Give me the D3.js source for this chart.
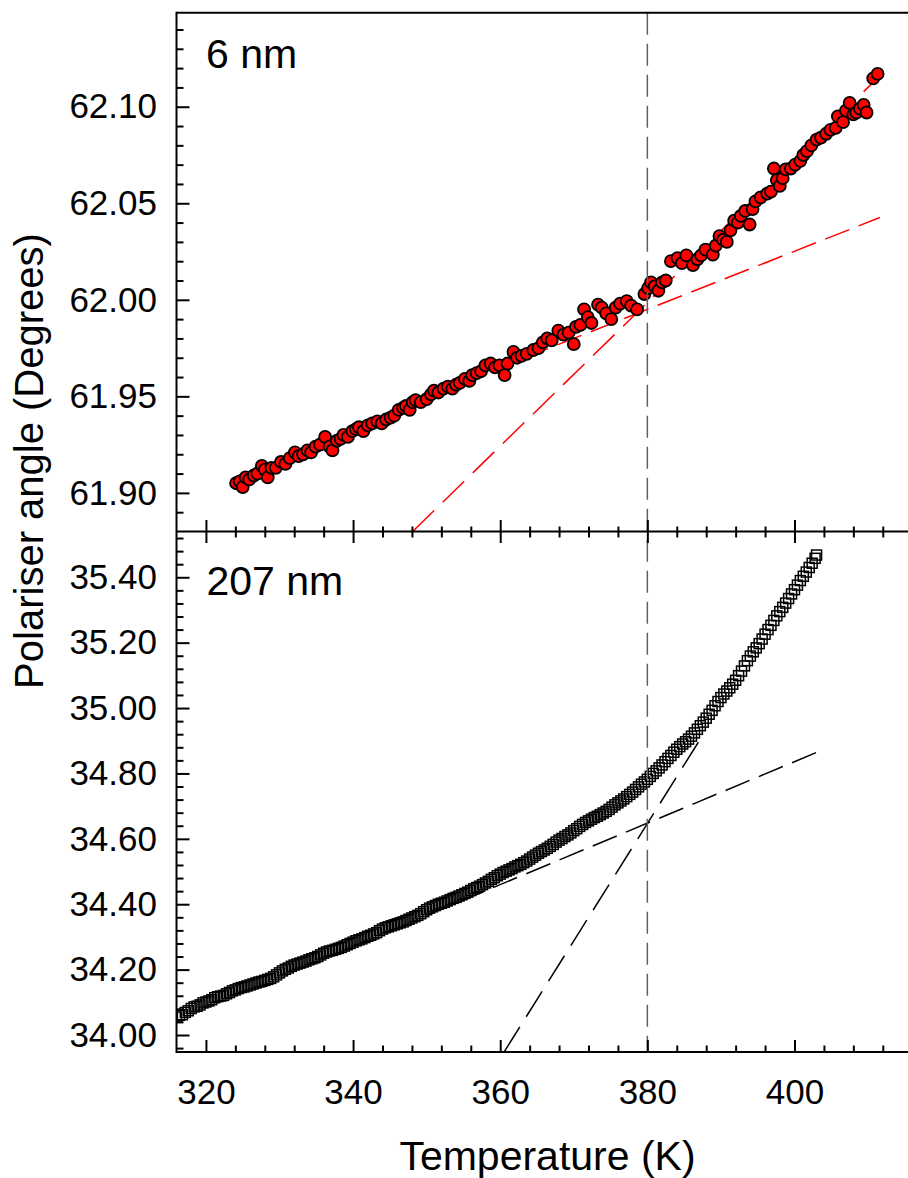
<!DOCTYPE html>
<html>
<head>
<meta charset="utf-8">
<script src="https://cdn.jsdelivr.net/npm/d3@7"></script>
<style>
  html, body { margin: 0; padding: 0; background: #fff; }
  svg { display: block; }
  text { font-family: "Liberation Sans", Arial, sans-serif; fill: #000; }
</style>
</head>
<body>
<svg id="chart" width="908" height="1178"></svg>
<script>
// ---------- Data ----------
const panelLabels = ["6 nm", "207 nm"];
const xTickValues = [320, 340, 360, 380, 400];
const xMinorTicks = [324, 328, 332, 336, 344, 348, 352, 356, 364, 368, 372, 376, 384, 388, 392, 396, 404, 408, 412];
const yTopTicks = [61.90, 61.95, 62.00, 62.05, 62.10];
const yTopMinor = [61.89, 61.91, 61.92, 61.93, 61.94, 61.96, 61.97, 61.98, 61.99, 62.01, 62.02, 62.03, 62.04, 62.06, 62.07, 62.08, 62.09, 62.11, 62.12, 62.13, 62.14];
const yBotTicks = [34.00, 34.20, 34.40, 34.60, 34.80, 35.00, 35.20, 35.40];
const yBotMinor = [33.96, 34.04, 34.08, 34.12, 34.16, 34.24, 34.28, 34.32, 34.36, 34.44, 34.48, 34.52, 34.56, 34.64, 34.68, 34.72, 34.76, 34.84, 34.88, 34.92, 34.96, 35.04, 35.08, 35.12, 35.16, 35.24, 35.28, 35.32, 35.36, 35.44, 35.48, 35.52];
const transitionT = 380;

// 6 nm film (red circles)
const temp6 = [324.1,324.6,325.0,325.4,325.9,326.5,327.0,327.6,328.0,328.4,328.9,329.5,330.2,330.8,331.4,332.1,332.6,333.2,333.8,334.3,334.9,335.5,336.2,336.8,337.2,337.8,338.3,338.7,339.3,339.9,340.4,340.8,341.4,342.0,342.6,343.3,343.9,344.5,345.1,345.6,346.2,346.8,347.2,347.7,348.1,348.5,349.2,350.0,350.6,351.0,351.6,352.3,352.9,353.5,354.0,354.5,355.2,355.8,356.2,356.8,357.4,358.0,358.7,359.3,359.9,360.6,361.0,361.8,362.3,362.9,363.6,364.5,365.2,365.8,366.4,367.0,367.9,368.6,369.3,370.0,370.3,370.9,371.4,371.9,372.4,373.3,373.8,374.4,375.1,375.7,376.3,377.2,377.8,378.6,379.6,380.1,380.5,381.0,381.5,382.0,382.5,383.2,384.1,384.7,385.3,386.2,386.8,387.3,387.9,388.9,389.3,389.8,390.3,390.8,391.3,391.8,392.3,392.7,393.3,393.9,394.3,394.7,395.4,396.3,396.8,397.2,397.6,398.0,398.4,398.8,399.5,400.1,400.8,401.2,401.7,402.3,403.0,403.6,404.3,404.9,405.6,405.9,406.6,407.0,407.5,408.0,408.4,408.9,409.4,409.8,410.7,411.3];
const angle6 = [61.905,61.906,61.903,61.908,61.907,61.909,61.910,61.914,61.912,61.908,61.913,61.913,61.916,61.915,61.918,61.921,61.919,61.920,61.922,61.921,61.924,61.925,61.929,61.924,61.922,61.927,61.928,61.930,61.929,61.932,61.933,61.934,61.932,61.935,61.936,61.937,61.936,61.938,61.939,61.940,61.943,61.944,61.945,61.943,61.947,61.948,61.947,61.9485,61.951,61.953,61.952,61.954,61.955,61.954,61.956,61.957,61.959,61.958,61.961,61.962,61.963,61.966,61.967,61.965,61.966,61.961,61.967,61.973,61.970,61.971,61.972,61.974,61.975,61.978,61.980,61.979,61.984,61.982,61.983,61.977,61.986,61.987,61.995,61.991,61.988,61.9975,61.996,61.993,61.990,61.996,61.998,61.9993,61.997,61.995,62.003,62.006,62.009,62.007,62.0047,62.009,62.010,62.020,62.0216,62.019,62.023,62.018,62.021,62.023,62.026,62.0234,62.028,62.033,62.031,62.030,62.036,62.041,62.040,62.0435,62.046,62.039,62.047,62.051,62.053,62.055,62.056,62.068,62.062,62.059,62.063,62.0676,62.068,62.070,62.072,62.075,62.077,62.080,62.083,62.084,62.086,62.088,62.089,62.095,62.092,62.098,62.102,62.096,62.097,62.099,62.101,62.097,62.1147,62.117];

// 207 nm film (open squares)
const temp207 = [316.0,316.4,316.8,317.2,317.6,318.0,318.4,318.8,319.2,319.6,320.0,320.4,320.8,321.2,321.6,322.0,322.4,322.8,323.2,323.6,324.0,324.4,324.8,325.2,325.6,326.0,326.4,326.8,327.2,327.6,328.0,328.4,328.8,329.2,329.6,330.0,330.4,330.8,331.2,331.6,332.0,332.4,332.8,333.2,333.6,334.0,334.4,334.8,335.2,335.6,336.0,336.4,336.8,337.2,337.6,338.0,338.4,338.8,339.2,339.6,340.0,340.4,340.8,341.2,341.6,342.0,342.4,342.8,343.2,343.6,344.0,344.4,344.8,345.2,345.6,346.0,346.4,346.8,347.2,347.6,348.0,348.4,348.8,349.2,349.6,350.0,350.4,350.8,351.2,351.6,352.0,352.4,352.8,353.2,353.6,354.0,354.4,354.8,355.2,355.6,356.0,356.4,356.8,357.2,357.6,358.0,358.4,358.8,359.2,359.6,360.0,360.4,360.8,361.2,361.6,362.0,362.4,362.8,363.2,363.6,364.0,364.4,364.8,365.2,365.6,366.0,366.4,366.8,367.2,367.6,368.0,368.4,368.8,369.2,369.6,370.0,370.4,370.8,371.2,371.6,372.0,372.4,372.8,373.2,373.6,374.0,374.4,374.8,375.2,375.6,376.0,376.4,376.8,377.2,377.6,378.0,378.4,378.8,379.2,379.6,380.0,380.4,380.8,381.2,381.6,382.0,382.4,382.8,383.2,383.6,384.0,384.4,384.8,385.2,385.6,386.0,386.4,386.8,387.2,387.6,388.0,388.4,388.8,389.2,389.6,390.0,390.4,390.8,391.2,391.6,392.0,392.4,392.8,393.2,393.6,394.0,394.4,394.8,395.2,395.6,396.0,396.4,396.8,397.2,397.6,398.0,398.4,398.8,399.2,399.6,400.0,400.4,400.8,401.2,401.6,402.0,402.4,402.8,403.0];
const angle207 = [34.055,34.060,34.062,34.069,34.074,34.081,34.086,34.088,34.092,34.098,34.101,34.104,34.108,34.114,34.117,34.119,34.121,34.126,34.130,34.135,34.138,34.142,34.145,34.147,34.150,34.153,34.156,34.159,34.162,34.164,34.167,34.170,34.173,34.178,34.184,34.190,34.196,34.201,34.205,34.210,34.214,34.217,34.220,34.223,34.226,34.230,34.233,34.236,34.240,34.245,34.250,34.254,34.257,34.259,34.262,34.265,34.268,34.272,34.276,34.280,34.284,34.288,34.291,34.294,34.298,34.302,34.305,34.309,34.313,34.319,34.324,34.328,34.331,34.334,34.337,34.340,34.343,34.346,34.350,34.354,34.358,34.362,34.366,34.371,34.377,34.383,34.388,34.392,34.396,34.400,34.403,34.406,34.410,34.414,34.418,34.421,34.425,34.429,34.433,34.437,34.442,34.447,34.451,34.455,34.460,34.465,34.470,34.476,34.481,34.487,34.492,34.497,34.501,34.505,34.509,34.514,34.518,34.522,34.527,34.532,34.538,34.544,34.550,34.556,34.561,34.566,34.571,34.577,34.583,34.590,34.596,34.601,34.607,34.612,34.618,34.625,34.631,34.638,34.644,34.650,34.655,34.660,34.665,34.669,34.674,34.679,34.684,34.690,34.697,34.704,34.710,34.716,34.722,34.729,34.736,34.743,34.751,34.759,34.767,34.774,34.782,34.791,34.800,34.808,34.817,34.826,34.836,34.846,34.855,34.865,34.874,34.882,34.890,34.897,34.905,34.914,34.924,34.935,34.946,34.957,34.969,34.981,34.993,35.007,35.020,35.032,35.043,35.052,35.062,35.073,35.085,35.099,35.113,35.129,35.145,35.159,35.172,35.184,35.197,35.211,35.226,35.240,35.253,35.268,35.282,35.295,35.308,35.321,35.335,35.349,35.362,35.376,35.390,35.403,35.416,35.430,35.443,35.458,35.468];

// Fit lines (endpoints: [T, angle])
const fitTopLow = [[345, 61.9424], [411.6, 62.0426]];
const fitTopSteep = [[348.1, 61.880], [411.6, 62.116]];
const fitBotLow = [[350, 34.366], [403.3, 34.867]];
const fitBotSteep = [[360.5, 33.947], [387.0, 34.898]];

// ---------- Layout ----------
const svg = d3.select("#chart");
const left = 176.5, rightEdge = 910;
const topY0 = 12.7, midY = 531.5, botY1 = 1052;

const x = d3.scaleLinear().domain([316, 415.7]).range([left, rightEdge]);
const yTop = d3.scaleLinear().domain([61.880, 62.1487]).range([midY, topY0]);
const yBot = d3.scaleLinear().domain([33.948, 35.54]).range([botY1, midY]);

svg.append("rect").attr("width", 908).attr("height", 1178).attr("fill", "#fff");

const defs = svg.append("defs");
defs.append("clipPath").attr("id", "clipTop").append("rect")
  .attr("x", left).attr("y", topY0).attr("width", rightEdge - left).attr("height", midY - topY0);
defs.append("clipPath").attr("id", "clipBot").append("rect")
  .attr("x", left).attr("y", midY).attr("width", rightEdge - left).attr("height", botY1 - midY);

const lineGen = (ys) => d3.line().x(d => x(d[0])).y(d => ys(d[1]));

// ---------- Top panel ----------
const gTop = svg.append("g").attr("clip-path", "url(#clipTop)");
gTop.append("path").datum(fitTopLow).attr("d", lineGen(yTop))
  .attr("fill", "none").attr("stroke", "#ff0000").attr("stroke-width", 1.5).attr("stroke-dasharray", "26,10");
gTop.append("path").datum(fitTopSteep).attr("d", lineGen(yTop))
  .attr("fill", "none").attr("stroke", "#ff0000").attr("stroke-width", 1.5).attr("stroke-dasharray", "30,12");
gTop.selectAll("circle").data(temp6.map((t, i) => [t, angle6[i]])).enter().append("circle")
  .attr("cx", d => x(d[0])).attr("cy", d => yTop(d[1])).attr("r", 6)
  .attr("fill", "#ff0000").attr("stroke", "#000").attr("stroke-width", 1.8);

// ---------- Bottom panel ----------
const gBot = svg.append("g").attr("clip-path", "url(#clipBot)");
gBot.append("path").datum(fitBotLow).attr("d", lineGen(yBot))
  .attr("fill", "none").attr("stroke", "#000").attr("stroke-width", 1.5).attr("stroke-dasharray", "26,10");
gBot.append("path").datum(fitBotSteep).attr("d", lineGen(yBot))
  .attr("fill", "none").attr("stroke", "#000").attr("stroke-width", 1.5).attr("stroke-dasharray", "30,12");
const sq = 10;
gBot.selectAll("rect").data(temp207.map((t, i) => [t, angle207[i]])).enter().append("rect")
  .attr("x", d => x(d[0]) - sq / 2).attr("y", d => yBot(d[1]) - sq / 2)
  .attr("width", sq).attr("height", sq)
  .attr("fill", "none").attr("stroke", "#000").attr("stroke-width", 1.5);

// ---------- Vertical transition line ----------
svg.append("line")
  .attr("x1", x(transitionT)).attr("x2", x(transitionT))
  .attr("y1", topY0).attr("y2", botY1)
  .attr("stroke", "#606060").attr("stroke-width", 1.5).attr("stroke-dasharray", "22,9");

// ---------- Axes ----------
function styleAxis(g) {
  g.select(".domain").remove();
  g.selectAll(".tick line").attr("stroke", "#000").attr("stroke-width", 2);
  g.selectAll(".tick text").attr("font-size", 35).attr("font-family", "'Liberation Sans', Arial, sans-serif").attr("fill", "#000");
}

// Left axes
svg.append("g").attr("transform", `translate(${left},0)`)
  .call(d3.axisLeft(yTop).tickValues(yTopTicks).tickSize(-13).tickPadding(19.5).tickFormat(d3.format(".2f")))
  .call(styleAxis);
svg.append("g").attr("transform", `translate(${left},0)`)
  .call(d3.axisLeft(yTop).tickValues(yTopMinor).tickSize(-7).tickFormat(""))
  .call(styleAxis);
svg.append("g").attr("transform", `translate(${left},0)`)
  .call(d3.axisLeft(yBot).tickValues(yBotTicks).tickSize(-13).tickPadding(19.5).tickFormat(d3.format(".2f")))
  .call(styleAxis);
svg.append("g").attr("transform", `translate(${left},0)`)
  .call(d3.axisLeft(yBot).tickValues(yBotMinor).tickSize(-7).tickFormat(""))
  .call(styleAxis);

// Middle boundary ticks (both directions)
svg.append("g").attr("transform", `translate(0,${midY})`)
  .call(d3.axisBottom(x).tickValues(xTickValues).tickSize(11.5).tickFormat(""))
  .call(styleAxis);
svg.append("g").attr("transform", `translate(0,${midY})`)
  .call(d3.axisBottom(x).tickValues(xTickValues).tickSize(-11.5).tickFormat(""))
  .call(styleAxis);
svg.append("g").attr("transform", `translate(0,${midY})`)
  .call(d3.axisBottom(x).tickValues(xMinorTicks).tickSize(6).tickFormat(""))
  .call(styleAxis);
svg.append("g").attr("transform", `translate(0,${midY})`)
  .call(d3.axisBottom(x).tickValues(xMinorTicks).tickSize(-5).tickFormat(""))
  .call(styleAxis);

// Bottom axis
svg.append("g").attr("transform", `translate(0,${botY1})`)
  .call(d3.axisBottom(x).tickValues(xTickValues).tickSize(-12).tickPadding(27).tickFormat(d3.format("d")))
  .call(styleAxis);
svg.append("g").attr("transform", `translate(0,${botY1})`)
  .call(d3.axisBottom(x).tickValues(xMinorTicks).tickSize(-6.5).tickFormat(""))
  .call(styleAxis);

// Frame lines
const frame = svg.append("g").attr("stroke", "#000").attr("stroke-width", 2);
frame.append("line").attr("x1", left).attr("x2", 908).attr("y1", topY0).attr("y2", topY0);
frame.append("line").attr("x1", left).attr("x2", 908).attr("y1", midY).attr("y2", midY);
frame.append("line").attr("x1", left).attr("x2", 908).attr("y1", botY1).attr("y2", botY1);
frame.append("line").attr("x1", left).attr("x2", left).attr("y1", topY0 - 1).attr("y2", botY1 + 1);

// ---------- Text ----------
svg.append("text").attr("x", 206).attr("y", 68).attr("font-size", 41).text(panelLabels[0]);
svg.append("text").attr("x", 206.5).attr("y", 595).attr("font-size", 41).text(panelLabels[1]);
svg.append("text").attr("x", 547.5).attr("y", 1169.5).attr("font-size", 41)
  .attr("text-anchor", "middle").text("Temperature (K)");
svg.append("text").attr("transform", "translate(43,461) rotate(-90)").attr("font-size", 40)
  .attr("text-anchor", "middle").text("Polariser angle (Degrees)");
</script>
</body>
</html>
